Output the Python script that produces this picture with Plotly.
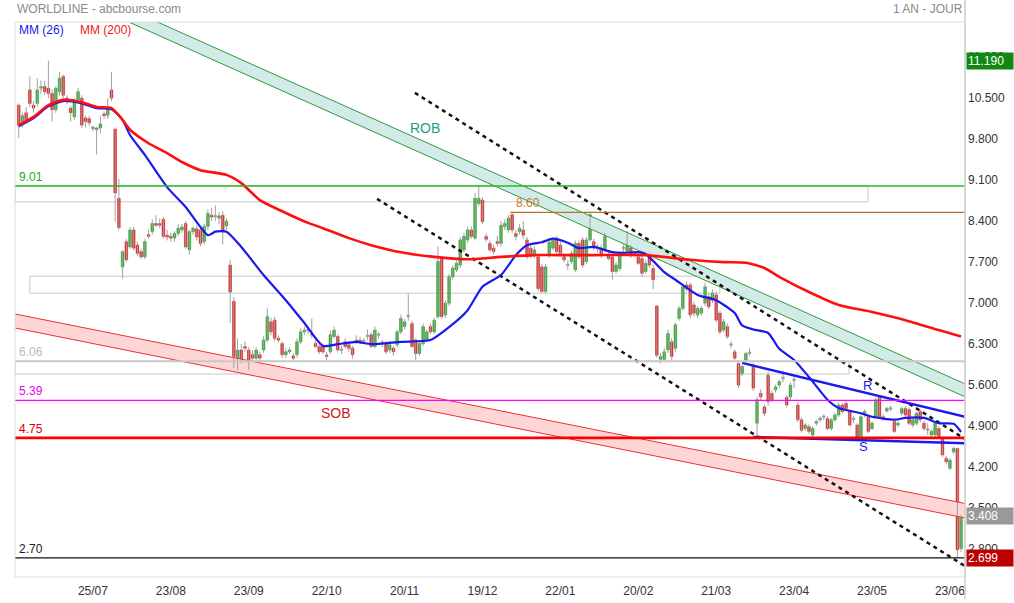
import pandas as pd
import plotly.graph_objects as go

# ---------------- data ----------------
holidays = ["2024-12-25", "2024-12-26", "2025-01-01", "2025-04-18", "2025-04-21", "2025-05-01"]
dates = [d for d in pd.bdate_range("2024-06-27", "2025-06-26") if d.strftime("%Y-%m-%d") not in holidays]

opens = [
 10.43,10.15,10.30,10.69,10.43,10.46,10.72,10.75,10.72,10.63,
 10.35,10.66,10.92,10.55,10.38,10.23,10.52,10.55,10.21,10.20,
 10.03,10.01,10.04,10.28,10.26,10.69,10.02,8.84,7.67,8.10,
 8.01,8.30,8.04,7.93,7.84,8.22,8.27,8.41,8.41,8.48,
 8.21,8.19,8.16,8.24,8.30,8.41,7.96,8.27,8.32,8.30,
 8.10,8.36,8.55,8.53,8.50,8.55,8.37,7.70,7.08,6.11,
 6.25,6.31,6.25,6.17,6.11,6.17,6.25,6.42,6.73,6.76,
 6.45,6.36,6.17,6.22,6.15,6.17,6.39,6.56,6.59,6.51,
 6.36,6.31,6.31,6.16,6.22,6.48,6.48,6.25,6.39,6.34,
 6.28,6.39,6.42,6.39,6.48,6.51,6.31,6.51,6.36,6.36,
 6.25,6.28,6.34,6.56,6.65,6.82,6.70,6.42,6.19,6.36,
 6.42,6.65,6.56,6.82,7.82,6.85,7.05,7.50,7.62,7.70,
 7.96,8.13,8.30,8.16,8.75,8.81,8.19,8.07,7.99,8.10,
 8.07,8.36,8.30,8.56,8.24,8.27,8.30,8.13,7.99,7.87,
 7.84,7.67,7.25,7.87,7.99,8.16,8.04,7.84,7.70,7.76,
 7.62,8.07,8.13,7.76,8.13,8.10,7.99,7.99,7.96,7.87,
 7.84,7.59,7.64,7.99,7.93,7.99,7.90,7.84,7.81,7.59,
 7.87,7.64,7.00,6.09,6.09,6.25,6.39,6.28,6.79,6.96,
 7.36,7.36,7.02,6.85,6.88,7.05,7.16,7.10,7.19,6.88,
 6.59,6.65,6.34,6.22,6.02,5.85,6.08,6.20,5.99,5.00,
 5.51,5.28,5.82,5.51,5.57,5.65,5.76,5.44,5.45,5.74,
 5.31,5.06,4.91,4.94,4.80,5.00,5.06,5.10,5.08,4.91,
 5.06,5.14,5.31,5.34,5.20,5.06,4.97,4.77,5.14,5.11,
 4.91,5.11,5.44,5.11,5.21,5.24,5.03,4.97,5.17,5.25,
 5.23,4.97,5.00,5.20,5.00,4.88,4.80,4.80,4.91,4.74,
 4.40,4.23,4.51,4.57,2.86]
highs = [
 10.46,10.30,10.40,10.92,10.50,10.89,10.85,10.85,11.19,10.70,
 10.75,11.00,10.95,10.60,10.42,10.55,10.72,10.60,10.25,10.25,
 10.08,10.06,10.25,10.32,10.55,11.00,10.05,9.17,7.95,8.15,
 8.35,8.35,8.10,7.98,8.15,8.30,8.48,8.55,8.50,8.52,
 8.30,8.25,8.28,8.40,8.40,8.45,8.30,8.36,8.38,8.35,
 8.40,8.65,8.68,8.72,8.60,8.62,8.50,7.79,7.15,6.45,
 6.35,6.40,6.30,6.25,6.30,6.22,6.48,6.96,6.80,6.82,
 6.50,6.40,6.28,6.30,6.20,6.45,6.62,6.65,6.65,6.79,
 6.42,6.35,6.36,6.22,6.58,6.65,6.52,6.32,6.45,6.40,
 6.32,6.50,6.48,6.45,6.60,6.55,6.65,6.56,6.42,6.40,
 6.40,6.32,6.60,6.85,6.78,7.21,6.75,6.45,6.40,6.70,
 6.60,6.70,6.80,8.02,7.85,7.10,7.55,7.70,7.78,8.18,
 8.25,8.36,8.36,8.93,9.07,8.86,8.24,8.12,8.05,8.20,
 8.45,8.48,8.56,8.61,8.30,8.40,8.45,8.18,8.05,8.02,
 7.90,7.72,7.72,8.15,8.18,8.20,8.10,7.90,7.78,7.95,
 8.12,8.12,8.18,8.18,8.61,8.15,8.05,8.05,8.25,7.95,
 7.90,7.75,7.92,8.05,8.28,8.04,7.95,7.90,7.86,7.78,
 7.92,7.70,7.02,6.20,6.28,6.60,6.45,6.72,7.00,7.38,
 7.42,7.40,7.08,7.00,7.00,7.40,7.22,7.28,7.24,6.92,
 6.78,6.70,6.40,6.26,6.06,6.00,6.22,6.28,6.03,5.45,
 5.58,5.32,5.88,5.56,5.66,5.74,5.90,5.48,5.70,5.80,
 5.36,5.10,5.00,4.98,4.95,5.06,5.12,5.15,5.12,5.09,
 5.18,5.36,5.35,5.38,5.24,5.12,5.00,5.15,5.24,5.15,
 5.03,5.44,5.48,5.15,5.28,5.30,5.07,5.04,5.28,5.29,
 5.27,5.09,5.20,5.24,5.04,5.00,4.90,5.04,4.95,4.77,
 4.44,4.40,4.60,4.58,3.43]
lows = [
 9.87,10.05,10.12,10.40,10.30,10.40,10.62,10.60,10.55,10.15,
 10.30,10.60,10.55,10.45,10.15,10.18,10.48,10.04,10.05,10.08,
 9.98,9.59,9.95,10.20,10.20,10.50,8.44,8.30,7.47,7.75,
 7.98,7.95,7.85,7.80,7.80,8.15,8.22,8.35,8.33,8.15,
 8.12,8.10,8.10,8.20,8.25,7.98,7.88,8.22,8.12,8.02,
 8.05,8.30,8.45,8.45,8.40,8.05,8.30,6.71,5.94,5.91,
 6.02,6.22,5.91,6.05,6.05,6.05,6.20,6.38,6.50,6.40,
 6.38,6.12,6.12,6.18,6.08,6.12,6.35,6.50,6.52,6.45,
 6.28,6.18,6.18,6.08,6.18,6.45,6.20,6.18,6.28,6.22,
 6.10,6.35,6.35,6.35,6.42,6.28,6.28,6.45,6.30,6.18,
 6.20,6.15,6.30,6.52,6.60,6.75,6.28,6.08,6.15,6.32,
 6.38,6.52,6.52,6.78,6.78,6.80,7.00,7.45,7.58,7.65,
 7.92,8.08,8.15,8.12,8.70,8.40,8.10,7.92,7.88,8.02,
 8.02,8.30,8.25,8.25,8.12,8.22,8.15,7.80,7.82,7.82,
 7.25,7.22,7.22,7.82,7.95,7.88,7.85,7.75,7.62,7.72,
 7.58,7.80,7.65,7.72,8.10,7.95,7.92,7.82,7.92,7.78,
 7.45,7.55,7.60,7.92,7.90,7.82,7.85,7.70,7.50,7.55,
 7.65,7.29,6.12,6.02,6.05,6.20,6.08,6.22,6.75,6.92,
 7.25,6.80,6.82,6.80,6.84,7.00,6.95,7.05,6.72,6.52,
 6.55,6.44,6.28,6.08,5.60,5.80,6.04,6.15,5.55,4.75,
 5.40,5.12,5.30,5.36,5.52,5.60,5.70,5.27,5.40,5.60,
 5.02,4.84,4.87,4.82,4.76,4.96,5.02,5.05,4.88,4.87,
 5.02,5.10,5.16,5.21,4.94,5.00,4.71,4.73,5.10,4.83,
 4.88,5.08,5.08,5.04,5.18,5.20,4.83,4.93,5.13,5.10,
 4.96,4.93,4.96,5.02,4.87,4.80,4.76,4.76,4.73,4.42,
 4.30,4.20,4.47,2.699,2.80]
closes = [
 10.09,10.25,10.18,10.46,10.38,10.69,10.74,10.66,10.63,10.35,
 10.72,10.89,10.60,10.49,10.30,10.52,10.66,10.09,10.15,10.13,
 10.05,10.04,10.11,10.25,10.38,10.55,8.93,8.34,7.93,7.79,
 8.30,7.99,7.90,7.84,8.10,8.19,8.41,8.38,8.38,8.19,
 8.18,8.16,8.24,8.33,8.35,8.01,8.27,8.33,8.18,8.07,
 8.36,8.58,8.52,8.52,8.54,8.27,8.45,7.24,6.14,6.25,
 6.08,6.28,6.00,6.11,6.25,6.11,6.42,6.82,6.56,6.45,
 6.42,6.17,6.22,6.25,6.11,6.39,6.56,6.59,6.58,6.50,
 6.31,6.22,6.22,6.14,6.51,6.59,6.25,6.24,6.31,6.28,
 6.17,6.42,6.39,6.40,6.48,6.31,6.59,6.50,6.37,6.22,
 6.34,6.22,6.56,6.79,6.73,6.83,6.31,6.19,6.36,6.65,
 6.56,6.56,6.76,7.76,6.82,7.05,7.50,7.65,7.73,8.13,
 8.19,8.30,8.19,8.84,8.84,8.44,8.14,7.96,7.93,8.07,
 8.38,8.41,8.50,8.30,8.19,8.33,8.21,7.84,7.87,7.96,
 7.30,7.25,7.67,8.09,8.13,7.93,7.90,7.79,7.69,7.90,
 8.07,7.84,7.70,8.13,8.56,7.99,7.98,7.87,8.19,7.81,
 7.59,7.70,7.87,7.98,8.07,7.87,7.89,7.73,7.56,7.73,
 7.70,7.45,6.16,6.14,6.22,6.53,6.14,6.68,6.96,7.33,
 7.30,6.85,6.88,6.96,6.96,7.33,6.99,7.22,6.76,6.56,
 6.73,6.48,6.33,6.11,5.65,5.97,6.19,6.19,5.60,5.40,
 5.45,5.17,5.37,5.40,5.62,5.71,5.77,5.31,5.65,5.73,
 5.06,4.88,4.97,4.86,4.91,5.03,5.08,5.10,4.91,5.06,
 5.14,5.31,5.20,5.25,4.97,5.06,4.75,5.11,5.20,4.86,
 5.00,5.40,5.11,5.08,5.25,5.25,4.86,5.00,5.25,5.14,
 5.00,5.06,5.17,5.06,4.91,4.88,4.86,5.00,4.77,4.46,
 4.34,4.37,4.57,2.84,3.408]

# moving averages (trading-day index, value)
ma200_idx = [0, 4, 8, 12, 17, 21, 25, 28, 30, 35, 40, 44, 49, 56, 60, 65, 72, 78, 82, 89, 95, 103,
             112, 121, 130, 139, 148, 155, 169, 181, 190, 196, 201, 205, 213, 221, 230, 239, 248, 254]
ma200_val = [10.09, 10.23, 10.43, 10.52, 10.48, 10.40, 10.38, 10.18, 10.01, 9.78, 9.61, 9.46, 9.32, 9.24,
             9.10, 8.81, 8.59, 8.42, 8.33, 8.16, 8.04, 7.92, 7.84, 7.80, 7.84, 7.87, 7.87, 7.87, 7.87,
             7.79, 7.75, 7.74, 7.65, 7.50, 7.24, 7.02, 6.90, 6.76, 6.59, 6.48]
ma26_idx = [0, 4, 8, 12, 17, 21, 25, 28, 30, 34, 40, 45, 51, 53, 56, 60, 66, 72, 77, 82, 86, 91, 95,
            103, 111, 116, 121, 125, 130, 134, 137, 141, 144, 148, 151, 155, 160, 163, 167, 169, 174,
            177, 183, 188, 193, 195, 198, 202, 205, 209, 213, 218, 221, 227, 230, 236, 239, 244, 248,
            252, 254]
ma26_val = [10.07, 10.21, 10.41, 10.50, 10.46, 10.38, 10.36, 10.18, 9.92, 9.58, 9.03, 8.69, 8.21, 8.27,
            8.27, 8.01, 7.53, 7.10, 6.71, 6.32, 6.35, 6.39, 6.35, 6.39, 6.42, 6.64, 6.93, 7.33, 7.53,
            7.87, 8.04, 8.09, 8.15, 8.08, 7.99, 8.01, 7.92, 7.91, 7.92, 7.89, 7.58, 7.45, 7.19, 7.10,
            6.88, 6.67, 6.60, 6.54, 6.27, 6.08, 5.79, 5.40, 5.26, 5.17, 5.11, 5.06, 5.09, 5.09, 5.00,
            4.99, 4.85]

tick_dates = ["2024-07-25", "2024-08-23", "2024-09-23", "2024-10-22", "2024-11-20", "2024-12-19",
              "2025-01-22", "2025-02-20", "2025-03-21", "2025-04-23", "2025-05-23", "2025-06-23"]
tick_text = ["25/07", "23/08", "23/09", "22/10", "20/11", "19/12", "22/01", "20/02", "21/03", "23/04",
             "23/05", "23/06"]
ytick_vals = [2.8, 3.5, 4.2, 4.9, 5.6, 6.3, 7.0, 7.7, 8.4, 9.1, 9.8, 10.5, 11.2]

# drawn objects (index, price)
rob_x = [30, 255.1]
rob_upper = [12.06, 5.67]
rob_lower = [11.84, 5.45]
sob_x = [-1.0, 255.1]
sob_upper = [6.865, 3.629]
sob_lower = [6.626, 3.382]
dot1_x, dot1_y = [106.8, 255.1], [10.64, 4.73]
dot2_x, dot2_y = [96.6, 255.1], [8.83, 2.56]
res_x, res_y = [195.0, 255.1], [6.03, 5.11]
sup_x, sup_y = [197.9, 255.1], [4.765, 4.66]
levels = {"9.01": 9.05, "6.06": 6.06, "5.39": 5.39, "4.75": 4.75, "2.70": 2.70}
level_860 = 8.60
level_860_start = 132.5
zones = [(-1.0, 228.9, 8.78, 9.06), (3.0, 189.0, 7.22, 7.51), (-1.0, 223.8, 5.84, 6.06)]
last_high, last_close, last_low = 11.19, 3.408, 2.699

# ---------------- figure ----------------
FONT = "Liberation Sans, Arial, sans-serif"
X_RANGE = [-1.0, 255.06]
Y_RANGE = [2.3746, 11.85]
n = len(closes)
xs = list(range(n))
date_pos = {d.strftime("%Y-%m-%d"): i for i, d in enumerate(dates)}
tick_vals = [date_pos[d] for d in tick_dates]

fig = go.Figure()

# channel fills
fig.add_trace(go.Scatter(x=[rob_x[0], rob_x[1], rob_x[1], rob_x[0]],
                         y=[rob_upper[0], rob_upper[1], rob_lower[1], rob_lower[0]],
                         fill="toself", fillcolor="#d3ebe7", line=dict(width=0), mode="lines",
                         hoverinfo="skip"))
fig.add_trace(go.Scatter(x=[sob_x[0], sob_x[1], sob_x[1], sob_x[0]],
                         y=[sob_upper[0], sob_upper[1], sob_lower[1], sob_lower[0]],
                         fill="toself", fillcolor="#ffd6d6", line=dict(width=0), mode="lines",
                         hoverinfo="skip"))

# wicks
wx, wy = [], []
for i in xs:
    wx += [i, i, None]
    wy += [lows[i], highs[i], None]
fig.add_trace(go.Scatter(x=wx, y=wy, mode="lines", line=dict(color="#a0a0a0", width=1),
                         hoverinfo="skip"))

# bodies
groups = {"up": ([], [], []), "down": ([], [], []), "flat": ([], [], [])}
for i in xs:
    o, c = opens[i], closes[i]
    key = "flat" if abs(c - o) < 0.015 else ("up" if c > o else "down")
    gx, gb, gh = groups[key]
    gx.append(i)
    gb.append(min(o, c))
    gh.append(max(abs(c - o), 0.025))
colors = {"up": ("#2fb52f", "#1f8f1f"), "down": ("#ee2a2a", "#c01818"), "flat": ("#9a9a9a", "#8a8a8a")}
for key, (gx, gb, gh) in groups.items():
    fig.add_trace(go.Bar(x=gx, y=gh, base=gb, width=0.72,
                         marker=dict(color=colors[key][0], line=dict(color=colors[key][1], width=0.5)),
                         hoverinfo="skip"))

# channel edges
for yy in (rob_upper, rob_lower):
    fig.add_trace(go.Scatter(x=rob_x, y=yy, mode="lines", line=dict(color="#2e9a3a", width=1), hoverinfo="skip"))
for yy in (sob_upper, sob_lower):
    fig.add_trace(go.Scatter(x=sob_x, y=yy, mode="lines", line=dict(color="#ee3030", width=1), hoverinfo="skip"))

# dotted trend lines
for dx, dy in [(dot1_x, dot1_y), (dot2_x, dot2_y)]:
    fig.add_trace(go.Scatter(x=dx, y=dy, mode="lines",
                             line=dict(color="#111111", width=2.5, dash="4px,4px"), hoverinfo="skip"))

# moving averages
fig.add_trace(go.Scatter(x=ma26_idx, y=ma26_val, mode="lines",
                         line=dict(color="#1a1aee", width=2.2, shape="spline", smoothing=0.6),
                         hoverinfo="skip"))
fig.add_trace(go.Scatter(x=ma200_idx, y=ma200_val, mode="lines",
                         line=dict(color="#ff1010", width=2.6, shape="spline", smoothing=0.6),
                         hoverinfo="skip"))

# R / S lines
for dx, dy in [(res_x, res_y), (sup_x, sup_y)]:
    fig.add_trace(go.Scatter(x=dx, y=dy, mode="lines", line=dict(color="#1a1aee", width=2.5),
                             hoverinfo="skip"))

shapes = []
for (x0, x1, y0, y1) in zones:
    shapes.append(dict(type="rect", xref="x", yref="y", x0=x0, x1=x1, y0=y0, y1=y1,
                       line=dict(color="#c8c8c8", width=1), fillcolor="rgba(0,0,0,0)", layer="below"))
level_style = {"9.01": ("#22bb22", 1.3), "6.06": ("#c8c8c8", 2), "5.39": ("#ff00ff", 1.3),
               "4.75": ("#ff0000", 2.6), "2.70": ("#111111", 1.3)}
for name, val in levels.items():
    col, w = level_style[name]
    shapes.append(dict(type="line", xref="paper", yref="y", x0=0, x1=1, y0=val, y1=val,
                       line=dict(color=col, width=w), layer="above"))
shapes.append(dict(type="line", xref="x", yref="y", x0=level_860_start, x1=X_RANGE[1],
                   y0=level_860, y1=level_860, line=dict(color="#b8702a", width=1.3), layer="above"))
# plot frame
shapes.append(dict(type="rect", xref="paper", yref="paper", x0=0, x1=1, y0=0, y1=1,
                   line=dict(color="#dddddd", width=1), layer="above"))
shapes.append(dict(type="line", xref="paper", yref="paper", x0=1, x1=1, y0=-0.04, y1=1.04,
                   line=dict(color="#cccccc", width=1.5), layer="above"))

ann = []
label_col = {"9.01": "#22aa22", "6.06": "#bbbbbb", "5.39": "#ee00ee", "4.75": "#dd0000", "2.70": "#222222"}
for name, val in levels.items():
    ann.append(dict(xref="paper", yref="y", x=0, y=val, text=name, showarrow=False, xanchor="left",
                    yanchor="bottom", xshift=2, yshift=0, font=dict(family=FONT, size=12, color=label_col[name])))
ann.append(dict(xref="x", yref="y", x=level_860_start + 1, y=level_860, text="8.60", showarrow=False,
                xanchor="left", yanchor="bottom", yshift=0, font=dict(family=FONT, size=12, color="#c87a30")))
ann.append(dict(xref="x", yref="y", x=109.5, y=10.04, text="ROB", showarrow=False,
                font=dict(family=FONT, size=14, color="#2a9a8a")))
ann.append(dict(xref="x", yref="y", x=85.5, y=5.175, text="SOB", showarrow=False,
                font=dict(family=FONT, size=14, color="#cc2020")))
ann.append(dict(xref="x", yref="y", x=228.9, y=5.64, text="R", showarrow=False,
                font=dict(family=FONT, size=13, color="#1a1aee")))
ann.append(dict(xref="x", yref="y", x=227.6, y=4.61, text="S", showarrow=False,
                font=dict(family=FONT, size=13, color="#1a1aee")))
# header / legend
ann.append(dict(xref="paper", yref="paper", x=0, y=1.0234, text="WORLDLINE - abcbourse.com", showarrow=False,
                xanchor="left", yanchor="middle", font=dict(family=FONT, size=12, color="#8a8a8a")))
ann.append(dict(xref="paper", yref="paper", x=1.0, y=1.0234, text="1 AN - JOUR", showarrow=False,
                xanchor="right", yanchor="middle", font=dict(family=FONT, size=12, color="#8a8a8a")))
ann.append(dict(xref="paper", yref="paper", x=0, y=0.9856, text="MM (26)", showarrow=False, xanchor="left",
                yanchor="middle", xshift=2, font=dict(family=FONT, size=12, color="#1a1aee")))
ann.append(dict(xref="paper", yref="paper", x=0, y=0.9856, text="MM (200)", showarrow=False, xanchor="left",
                yanchor="middle", xshift=63, font=dict(family=FONT, size=12, color="#ee2020")))
# price boxes on right axis
for val, bg in [(last_high, "#118811"), (last_close, "#999999"), (last_low, "#bb0000")]:
    ann.append(dict(xref="paper", yref="y", x=1, y=val, text=f"{val:.3f}", showarrow=False, xanchor="left",
                    yanchor="middle", xshift=1, bgcolor=bg, borderpad=1, width=44, height=14, align="left",
                    font=dict(family=FONT, size=12, color="white")))

fig.update_layout(
    width=1014, height=603,
    margin=dict(l=15, r=49, t=22, b=26, autoexpand=False),
    paper_bgcolor="white", plot_bgcolor="white",
    showlegend=False, barmode="overlay", hovermode=False,
    shapes=shapes, annotations=ann,
    xaxis=dict(range=X_RANGE, tickvals=tick_vals, ticktext=tick_text, showgrid=False, zeroline=False,
               showline=False, ticks="", automargin=False, ticklabelstandoff=5,
               tickfont=dict(family=FONT, size=12, color="#333333")),
    yaxis=dict(range=Y_RANGE, side="right", tickvals=ytick_vals, ticktext=[f"{v:.3f}" for v in ytick_vals],
               showgrid=False, zeroline=False, showline=False, ticks="", automargin=False,
               ticklabelshift=-3, ticklabelstandoff=2,
               tickfont=dict(family=FONT, size=12, color="#333333")),
)

fig.write_html("out.html", config={"displayModeBar": False, "staticPlot": True},
               post_script="document.body.style.margin='0';document.body.style.overflow='hidden';")
